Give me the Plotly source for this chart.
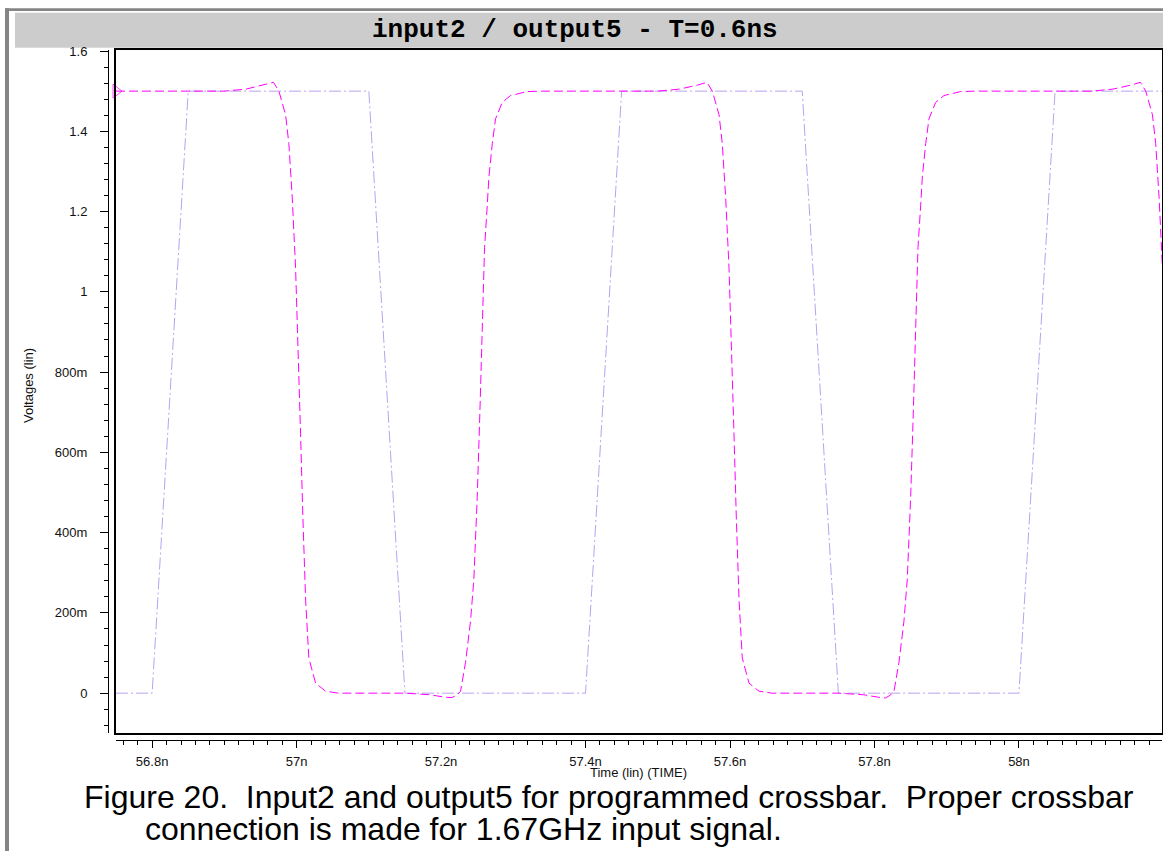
import plotly.graph_objects as go

# ---- waveform data (time in ns, voltage in V) ----
input2_t = [56.75, 56.80, 56.85, 57.10, 57.15, 57.40, 57.45, 57.70, 57.75, 58.00, 58.05, 58.198]
input2_v = [0.0, 0.0, 1.5, 1.5, 0.0, 0.0, 1.5, 1.5, 0.0, 0.0, 1.5, 1.5]

output5_t = [
    56.75, 56.90, 56.93, 56.955, 56.968, 56.9755, 56.9848, 56.9893, 56.994, 56.9986,
    57.0024, 57.0055, 57.0087, 57.0125, 57.017, 57.0263, 57.040, 57.058, 57.15, 57.185,
    57.205, 57.215, 57.222, 57.227, 57.2339, 57.2408, 57.2454, 57.2501, 57.2537, 57.257,
    57.2602, 57.2639, 57.2662, 57.2709, 57.2754, 57.2847, 57.2962, 57.3193, 57.34,
    57.50, 57.53, 57.555, 57.568, 57.5755, 57.5848, 57.5893, 57.594, 57.5986,
    57.6024, 57.6055, 57.6087, 57.6125, 57.617, 57.6263, 57.640, 57.658, 57.75, 57.785,
    57.805, 57.815, 57.822, 57.827, 57.8339, 57.8408, 57.8454, 57.8501, 57.8537, 57.857,
    57.8602, 57.8639, 57.8662, 57.8709, 57.8754, 57.8847, 57.8962, 57.9193, 57.94,
    58.10, 58.13, 58.155, 58.168, 58.1755, 58.1848, 58.1893, 58.194, 58.1986, 58.2024,
]
output5_v = [
    1.5, 1.5, 1.505, 1.515, 1.522, 1.50, 1.441, 1.369, 1.234, 1.06,
    0.853, 0.646, 0.439, 0.232, 0.087, 0.025, 0.005, 0.0, 0.0, -0.004,
    -0.01, -0.011, -0.005, 0.005, 0.077, 0.18, 0.284, 0.49, 0.698, 0.905,
    1.11, 1.214, 1.286, 1.369, 1.431, 1.472, 1.489, 1.499, 1.5,
    1.5, 1.505, 1.515, 1.522, 1.50, 1.441, 1.369, 1.234, 1.06,
    0.853, 0.646, 0.439, 0.232, 0.087, 0.025, 0.005, 0.0, 0.0, -0.004,
    -0.01, -0.012, -0.005, 0.005, 0.077, 0.18, 0.284, 0.49, 0.698, 0.905,
    1.11, 1.214, 1.286, 1.369, 1.431, 1.472, 1.489, 1.499, 1.5,
    1.5, 1.505, 1.515, 1.522, 1.50, 1.441, 1.369, 1.234, 1.06, 0.853,
]

x_tick_vals = [56.8, 57.0, 57.2, 57.4, 57.6, 57.8, 58.0]
x_tick_text = ["56.8n", "57n", "57.2n", "57.4n", "57.6n", "57.8n", "58n"]
y_tick_vals = [1.6, 1.4, 1.2, 1.0, 0.8, 0.6, 0.4, 0.2, 0.0]
y_tick_text = ["1.6", "1.4", "1.2", "1", "800m", "600m", "400m", "200m", "0"]

title_text = "input2 / output5 - T=0.6ns"
x_title = "Time (lin) (TIME)"
y_title = "Voltages (lin)"
caption_1 = "Figure 20.\u00a0 Input2 and output5 for programmed crossbar.\u00a0 Proper crossbar"
caption_2 = "connection is made for 1.67GHz input signal."

# ---- page geometry helpers (pixel -> paper fraction) ----
W, H = 1163, 851


def px(x):
    return x / W


def py(y):
    return 1 - y / H


X_RANGE = [56.75, 58.198]
Y_RANGE = [-0.1, 1.6025]
X_DOM = [px(116), px(1162)]
Y_DOM = [py(733.3), py(50)]

fig = go.Figure()

fig.add_trace(go.Scatter(
    x=input2_t, y=input2_v, mode="lines", name="input2",
    line=dict(color="#b9a2ee", width=1, dash="12px,3px,2px,3px"),
    hoverinfo="skip",
))
fig.add_trace(go.Scatter(
    x=output5_t, y=output5_v, mode="lines+markers", name="output5",
    line=dict(color="#ff00ff", width=1, dash="9px,4px"),
    marker=dict(symbol="triangle-right-open", size=[12] + [0] * (len(output5_t) - 1),
                color="#ff00ff", line=dict(color="#ff00ff", width=1)),
    cliponaxis=False,
    hoverinfo="skip",
))
# transparent copy of input2 on the offset tick axes so they get drawn
fig.add_trace(go.Scatter(
    x=input2_t, y=input2_v, mode="lines", xaxis="x2", yaxis="y2",
    line=dict(color="rgba(0,0,0,0)", width=0), hoverinfo="skip", showlegend=False,
))

axis_font = dict(family="Liberation Sans, Arial, sans-serif", size=13, color="#111")

fig.update_layout(
    width=W, height=H, autosize=False,
    margin=dict(l=0, r=0, t=0, b=0, autoexpand=False),
    paper_bgcolor="white", plot_bgcolor="white",
    showlegend=False,
    xaxis=dict(domain=X_DOM, range=X_RANGE, showline=True, mirror=True, automargin=False,
               linecolor="black", linewidth=2, showgrid=False, zeroline=False,
               showticklabels=False, ticks=""),
    yaxis=dict(domain=Y_DOM, range=Y_RANGE, showline=True, mirror=True, automargin=False,
               linecolor="black", linewidth=2, showgrid=False, zeroline=False,
               showticklabels=False, ticks=""),
    xaxis2=dict(overlaying="x", anchor="free", position=py(740), side="bottom",
                domain=X_DOM, range=X_RANGE, showline=True, linecolor="black", linewidth=1,
                showgrid=False, zeroline=False, automargin=False,
                tickmode="array", tickvals=x_tick_vals, ticktext=x_tick_text,
                ticks="outside", ticklen=7, tickwidth=1, tickcolor="black",
                ticklabelstandoff=2, tickfont=axis_font,
                minor=dict(ticks="outside", ticklen=4, tickwidth=1, tickcolor="black",
                           tickmode="linear", tick0=56.8, dtick=0.02, showgrid=False)),
    yaxis2=dict(overlaying="y", anchor="free", position=px(108), side="left",
                domain=Y_DOM, range=Y_RANGE, showline=True, linecolor="black", linewidth=1,
                showgrid=False, zeroline=False, automargin=False,
                tickmode="array", tickvals=y_tick_vals, ticktext=y_tick_text,
                ticks="outside", ticklen=8, tickwidth=1, tickcolor="black",
                ticklabelstandoff=10, tickfont=axis_font,
                minor=dict(ticks="outside", ticklen=4, tickwidth=1, tickcolor="black",
                           tickmode="linear", tick0=0, dtick=0.04, showgrid=False)),
)

# frame: grey border on the left/top and the title band
fig.add_shape(type="rect", xref="paper", yref="paper", x0=px(5), x1=px(9), y0=0, y1=py(8.3),
              fillcolor="#858585", line_width=0, layer="below")
fig.add_shape(type="rect", xref="paper", yref="paper", x0=px(5), x1=1, y0=py(11), y1=py(8.3),
              fillcolor="#858585", line_width=0, layer="below")
fig.add_shape(type="rect", xref="paper", yref="paper", x0=px(15), x1=1, y0=py(47.7), y1=py(12.7),
              fillcolor="#cccccc", line_width=0, layer="below")

fig.add_annotation(text="<b>" + title_text + "</b>", xref="paper", yref="paper",
                   x=px(575), y=py(30), xanchor="center", yanchor="middle", showarrow=False,
                   font=dict(family="Liberation Mono, Courier New, monospace", size=26, color="black"))
fig.add_annotation(text=x_title, xref="paper", yref="paper",
                   x=px(638.5), y=py(772), xanchor="center", yanchor="middle", showarrow=False,
                   font=dict(family="Liberation Sans, Arial, sans-serif", size=13, color="#111"))
fig.add_annotation(text=y_title, xref="paper", yref="paper", textangle=-90,
                   x=px(28), y=py(386), xanchor="center", yanchor="middle", showarrow=False,
                   font=dict(family="Liberation Sans, Arial, sans-serif", size=13, color="#111"))
# two-line caption below the chart, second line indented
fig.add_annotation(text=caption_1, xref="paper", yref="paper",
                   x=px(82), y=py(797), xanchor="left", yanchor="middle", showarrow=False,
                   font=dict(family="Liberation Sans, Arial, sans-serif", size=32, color="black"))
fig.add_annotation(text=caption_2, xref="paper", yref="paper",
                   x=px(143), y=py(829), xanchor="left", yanchor="middle", showarrow=False,
                   font=dict(family="Liberation Sans, Arial, sans-serif", size=32, color="black"))

fig.write_html("out.html")
